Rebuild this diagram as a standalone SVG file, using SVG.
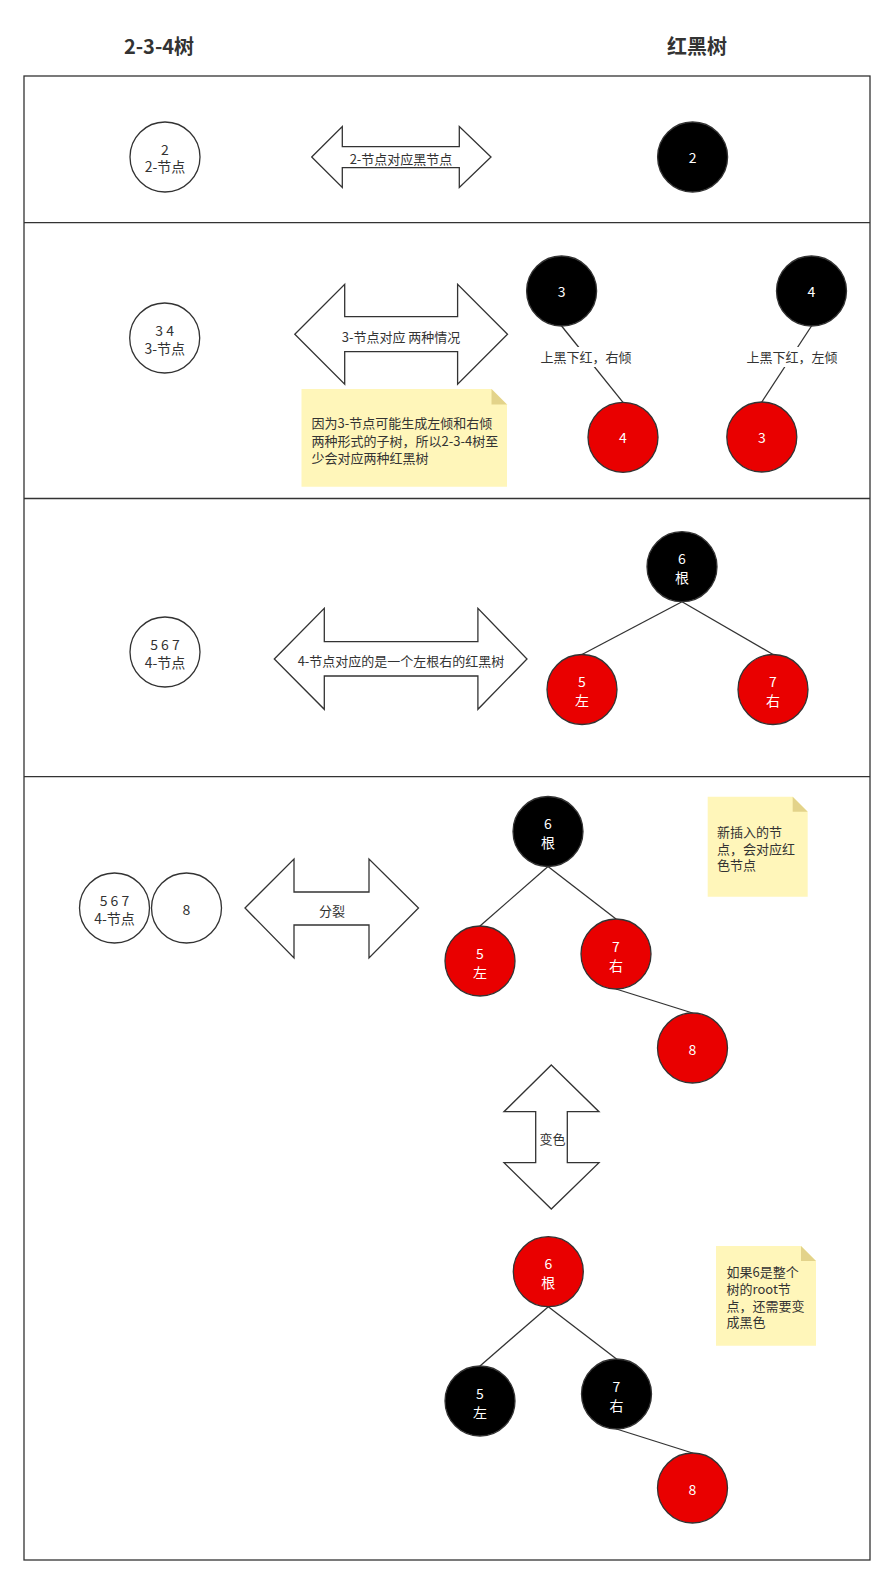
<svg xmlns="http://www.w3.org/2000/svg" width="895" height="1586" viewBox="0 0 895 1586">
<style>
.frame{fill:none;stroke:#333;stroke-width:1.3}
.w{fill:#fff;stroke:#333;stroke-width:1.3}
.b{fill:#000;stroke:#333;stroke-width:1.3}
.r{fill:#e90000;stroke:#333;stroke-width:1.3}
.arr{fill:#fff;stroke:#333;stroke-width:1.3;stroke-linejoin:miter}
.edge{stroke:#333;stroke-width:1.3;fill:none}
.note{fill:#fff6ba}
.fold{fill:#e3d38a}
text{font-family:"Noto Sans CJK SC","Noto Sans",sans-serif;dominant-baseline:central}
.t{font-size:14px;fill:#333;text-anchor:middle}
.tw{font-size:14px;fill:#fff;text-anchor:middle}
.s{font-size:13px;fill:#333;text-anchor:middle}
.n{font-size:13px;fill:#333}
.h{font-size:20px;font-weight:bold;fill:#333;text-anchor:middle}
</style>
<g id="titles">
<text class="h" x="159" y="45">2-3-4树</text>
<text class="h" x="697" y="45">红黑树</text>
</g>
<g id="frame">
<rect class="frame" x="24" y="76" width="846" height="1484"/>
<line class="frame" x1="24" y1="222.7" x2="870" y2="222.7"/>
<line class="frame" x1="24" y1="498.5" x2="870" y2="498.5"/>
<line class="frame" x1="24" y1="776.7" x2="870" y2="776.7"/>
</g>
<g id="connectors">
<line class="edge" x1="561.6" y1="326" x2="623" y2="402.3"/>
<line class="edge" x1="811.5" y1="326" x2="761.8" y2="402"/>
<line class="edge" x1="682" y1="601.7" x2="582" y2="654.5"/>
<line class="edge" x1="682" y1="601.7" x2="773" y2="654.5"/>
<line class="edge" x1="548" y1="866.5" x2="480" y2="926"/>
<line class="edge" x1="548" y1="866.5" x2="616" y2="919"/>
<line class="edge" x1="616" y1="989" x2="692.5" y2="1013"/>
<line class="edge" x1="548.3" y1="1306.7" x2="480" y2="1366"/>
<line class="edge" x1="548.3" y1="1306.7" x2="616.5" y2="1359"/>
<line class="edge" x1="616.5" y1="1429" x2="692.5" y2="1453"/>
<rect x="540" y="347" width="92" height="20" fill="#fff"/>
<text class="s" x="586" y="356.5">上黑下红，右倾</text>
<rect x="746" y="347" width="92" height="20" fill="#fff"/>
<text class="s" x="792" y="356.5">上黑下红，左倾</text>
</g>
<!-- Row 1 -->
<g id="n234_2"><circle class="w" cx="165" cy="157" r="35"/><text class="t" x="165" y="149">2</text><text class="t" x="165" y="166">2-节点</text></g>
<g id="arrow1"><polygon class="arr" points="311.7,157 342.3,126.5 342.3,146.7 459.3,146.7 459.3,126.5 491,157 459.3,187.5 459.3,167.7 342.3,167.7 342.3,187.5"/><text class="s" x="401" y="158">2-节点对应黑节点</text></g>
<g id="rb_2"><circle class="b" cx="692.6" cy="157" r="35"/><text class="tw" x="692.6" y="157">2</text></g>
<!-- Row 2 -->
<g id="n234_34"><circle class="w" cx="164.7" cy="338" r="35"/><text class="t" x="164.7" y="330">3 4</text><text class="t" x="164.7" y="347.5">3-节点</text></g>
<g id="arrow2"><polygon class="arr" points="294.8,334.3 344.7,284.3 344.7,316.7 457.6,316.7 457.6,284.3 507.5,334.3 457.6,384.3 457.6,351.7 344.7,351.7 344.7,384.3"/><text class="s" x="401" y="336">3-节点对应 两种情况</text></g>
<g id="note1"><path class="note" d="M301.5,389 H491.5 L507,404.5 V486.7 H301.5 Z"/><path class="fold" d="M491.5,389 L507,404.5 H491.5 Z"/>
<text class="n" x="311.5" y="422.7">因为3-节点可能生成左倾和右倾</text>
<text class="n" x="311.5" y="440">两种形式的子树，所以2-3-4树至</text>
<text class="n" x="311.5" y="457.3">少会对应两种红黑树</text></g>
<g id="rb_3a"><circle class="b" cx="561.6" cy="291" r="35"/><text class="tw" x="561.6" y="291">3</text></g>
<g id="rb_4a"><circle class="r" cx="623" cy="437.3" r="35"/><text class="tw" x="623" y="437.3">4</text></g>
<g id="rb_4b"><circle class="b" cx="811.5" cy="291" r="35"/><text class="tw" x="811.5" y="291">4</text></g>
<g id="rb_3b"><circle class="r" cx="761.8" cy="437" r="35"/><text class="tw" x="761.8" y="437">3</text></g>
<!-- Row 3 -->
<g id="n234_567"><circle class="w" cx="165" cy="652" r="35"/><text class="t" x="165" y="644">5 6 7</text><text class="t" x="165" y="661.5">4-节点</text></g>
<g id="arrow3"><polygon class="arr" points="274.3,659 324.3,608.3 324.3,641.7 477.9,641.7 477.9,608.3 527,659 477.9,709.3 477.9,676 324.3,676 324.3,709.3"/><text class="s" x="401" y="660">4-节点对应的是一个左根右的红黑树</text></g>
<g id="rb3_6"><circle class="b" cx="682" cy="566.7" r="35"/><text class="tw" x="682" y="558">6</text><text class="tw" x="682" y="577">根</text></g>
<g id="rb3_5"><circle class="r" cx="582" cy="689.5" r="35"/><text class="tw" x="582" y="681">5</text><text class="tw" x="582" y="700">左</text></g>
<g id="rb3_7"><circle class="r" cx="773" cy="689.5" r="35"/><text class="tw" x="773" y="681">7</text><text class="tw" x="773" y="700">右</text></g>
<!-- Row 4 -->
<g id="n234_567b"><circle class="w" cx="114.5" cy="908" r="35"/><text class="t" x="114.5" y="900">5 6 7</text><text class="t" x="114.5" y="918">4-节点</text></g>
<g id="n234_8"><circle class="w" cx="186.5" cy="908" r="35"/><text class="t" x="186.5" y="909">8</text></g>
<g id="arrow4"><polygon class="arr" points="245,908 294,859 294,892 369,892 369,859 418.5,908 369,958 369,925 294,925 294,958"/><text class="s" x="332" y="910">分裂</text></g>
<g id="rb4_6"><circle class="b" cx="548" cy="831.5" r="35"/><text class="tw" x="548" y="823">6</text><text class="tw" x="548" y="842">根</text></g>
<g id="rb4_5"><circle class="r" cx="480" cy="961" r="35"/><text class="tw" x="480" y="953">5</text><text class="tw" x="480" y="972">左</text></g>
<g id="rb4_7"><circle class="r" cx="616" cy="954" r="35"/><text class="tw" x="616" y="946">7</text><text class="tw" x="616" y="965">右</text></g>
<g id="rb4_8"><circle class="r" cx="692.5" cy="1048" r="35"/><text class="tw" x="692.5" y="1049">8</text></g>
<g id="note2"><path class="note" d="M707.7,796.7 H792.7 L807.7,811.7 V896.7 H707.7 Z"/><path class="fold" d="M792.7,796.7 L807.7,811.7 H792.7 Z"/>
<text class="n" x="717" y="831.7">新插入的节</text>
<text class="n" x="717" y="848">点，会对应红</text>
<text class="n" x="717" y="864.3">色节点</text></g>
<g id="arrow5"><polygon class="arr" points="551.3,1065 599,1111.7 567.3,1111.7 567.3,1162.7 599,1162.7 551.3,1209 504,1162.7 535.7,1162.7 535.7,1111.7 504,1111.7"/><text class="s" x="552.5" y="1138">变色</text></g>
<g id="rb5_6"><circle class="r" cx="548.3" cy="1271.7" r="35"/><text class="tw" x="548.3" y="1263">6</text><text class="tw" x="548.3" y="1282">根</text></g>
<g id="rb5_5"><circle class="b" cx="480" cy="1401" r="35"/><text class="tw" x="480" y="1393">5</text><text class="tw" x="480" y="1412">左</text></g>
<g id="rb5_7"><circle class="b" cx="616.5" cy="1394" r="35"/><text class="tw" x="616.5" y="1386">7</text><text class="tw" x="616.5" y="1405">右</text></g>
<g id="rb5_8"><circle class="r" cx="692.5" cy="1488" r="35"/><text class="tw" x="692.5" y="1489">8</text></g>
<g id="note3"><path class="note" d="M716,1246 H801 L816,1261 V1345.7 H716 Z"/><path class="fold" d="M801,1246 L816,1261 H801 Z"/>
<text class="n" x="726.5" y="1271.7">如果6是整个</text>
<text class="n" x="726.5" y="1288.3">树的root节</text>
<text class="n" x="726.5" y="1305">点，还需要变</text>
<text class="n" x="726.5" y="1321.7">成黑色</text></g>
</svg>
